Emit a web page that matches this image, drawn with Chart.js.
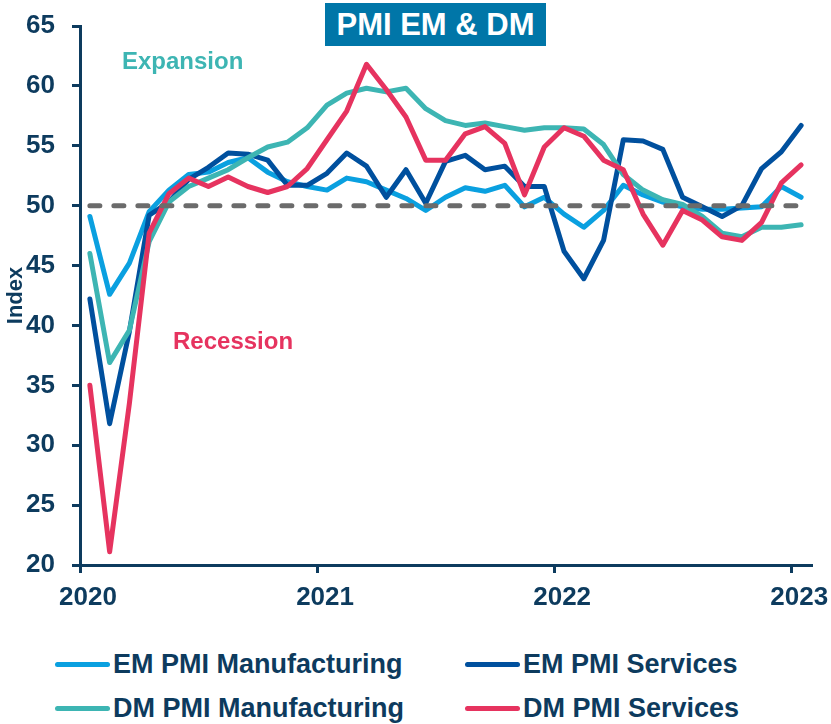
<!DOCTYPE html>
<html>
<head>
<meta charset="utf-8">
<script src="https://cdn.jsdelivr.net/npm/chart.js@4"></script>
<style>
  body { margin: 0; width: 831px; height: 724px; background: #fff; position: relative; overflow: hidden; }
  #wrap { position: absolute; left: 0; top: 0; width: 831px; height: 630px; }
  #titulo { position: absolute; left: 325px; top: 3px; width: 221px; height: 43px; background: #0076a8; color: #fff;
    font: bold 31px "Liberation Sans", Arial, sans-serif; text-align: center; line-height: 44px; }
  .nota { position: absolute; font: bold 24px "Liberation Sans", Arial, sans-serif; white-space: nowrap; }
  #leyenda .item { position: absolute; height: 40px; display: flex; align-items: center; white-space: nowrap;
    font: bold 27px "Liberation Sans", Arial, sans-serif; color: #0d3b5e; }
  #leyenda .linea { width: 55px; height: 5px; border-radius: 3px; margin-right: 3px; }
</style>
</head>
<body>
<div id="wrap"><canvas id="canva"></canvas></div>
<div id="titulo">PMI EM &amp; DM</div>
<div class="nota" id="expansion" style="left:122px; top:47px; color:#3db5b3;">Expansion</div>
<div class="nota" id="recesion" style="left:173px; top:327px; color:#e6335f;">Recession</div>
<div id="leyenda"></div>
<script>
// Datos (mensual, ene 2020 - ene 2023)
const meses = ["Jan 2020","Feb 2020","Mar 2020","Apr 2020","May 2020","Jun 2020","Jul 2020","Aug 2020","Sep 2020","Oct 2020","Nov 2020","Dec 2020",
  "Jan 2021","Feb 2021","Mar 2021","Apr 2021","May 2021","Jun 2021","Jul 2021","Aug 2021","Sep 2021","Oct 2021","Nov 2021","Dec 2021",
  "Jan 2022","Feb 2022","Mar 2022","Apr 2022","May 2022","Jun 2022","Jul 2022","Aug 2022","Sep 2022","Oct 2022","Nov 2022","Dec 2022",
  "Jan 2023"];

const emManufactura = [49.1,42.6,45.2,49.5,51.3,52.6,52.8,53.6,54.0,52.8,52.0,51.6,51.3,52.3,52.0,51.3,50.6,49.6,50.7,51.5,
  51.2,51.7,49.9,50.7,49.3,48.2,49.6,51.7,50.9,50.3,49.9,49.7,49.7,49.8,49.9,51.6,50.7];
const emServicios = [42.2,31.8,39.5,49.2,50.3,52.2,53.2,54.4,54.3,53.8,51.7,51.7,52.7,54.4,53.3,50.7,53.0,50.2,53.7,54.2,
  53.0,53.3,51.6,51.6,46.2,43.9,47.1,55.5,55.4,54.7,50.7,49.9,49.1,50.0,53.1,54.5,56.7];
const dmManufactura = [46.0,36.9,39.6,47.0,50.3,51.6,52.3,53.0,54.0,54.9,55.3,56.5,58.4,59.4,59.8,59.5,59.8,58.1,57.1,56.7,
  56.9,56.6,56.3,56.5,56.5,56.4,55.1,52.6,51.3,50.5,50.1,49.1,47.7,47.4,48.2,48.2,48.4];
const dmServicios = [35.0,21.1,33.5,47.7,51.0,52.3,51.6,52.4,51.6,51.1,51.6,53.1,55.5,57.9,61.8,59.7,57.4,53.8,53.8,56.0,
  56.6,55.2,50.9,54.9,56.5,55.8,53.8,53.0,49.3,46.7,49.6,48.8,47.4,47.1,48.6,51.9,53.4];

const umbral = 50;
const anios = ["2020","2021","2022","2023"];
const yTicks = [20,25,30,35,40,45,50,55,60,65];

const azul = "#0d3b5e";
const fuenteEjes = "'Liberation Sans', Arial, sans-serif";

function puntos(serie) {
  return serie.map((v, i) => ({ x: i, y: v }));
}

// posicion de cada anio = borde izquierdo de enero
const posAnios = anios.map(a => meses.indexOf("Jan " + a) - 0.5);

function serie(label, datos, color, orden) {
  return {
    label: label, data: puntos(datos), borderColor: color, backgroundColor: color,
    borderWidth: 5, pointRadius: 0, tension: 0, borderJoinStyle: "round", borderCapStyle: "round", order: orden
  };
}

const datasets = [
  serie("EM PMI Manufacturing", emManufactura, "#0aa0e0", 4),
  serie("EM PMI Services", emServicios, "#00509e", 3),
  serie("DM PMI Manufacturing", dmManufactura, "#3db5b3", 2),
  serie("DM PMI Services", dmServicios, "#e6335f", 1),
  {
    label: "50", data: [{ x: 0, y: umbral }, { x: meses.length - 1, y: umbral }], borderColor: "#6b6b6b",
    borderWidth: 5, borderDash: [10, 14], borderCapStyle: "round", pointRadius: 0, order: 0, sinLeyenda: true
  }
];

const ctx = document.getElementById("canva").getContext("2d");
const grafico = new Chart(ctx, {
  type: "line",
  data: { datasets: datasets },
  options: {
    responsive: true,
    maintainAspectRatio: false,
    animation: false,
    layout: { padding: { top: 26, right: 20, bottom: 15, left: 0 } },
    plugins: { legend: { display: false }, tooltip: { enabled: false } },
    scales: {
      x: {
        type: "linear",
        min: -0.5,
        max: meses.length - 0.5,
        afterBuildTicks: (scale) => { scale.ticks = posAnios.map(v => ({ value: v })); },
        afterFit: (scale) => { scale.height = 50; },
        border: { color: azul, width: 3 },
        grid: { drawOnChartArea: false, drawTicks: true, tickLength: 8, tickColor: azul, lineWidth: 3 },
        ticks: {
          autoSkip: false, maxRotation: 0, padding: 9, labelOffset: 8, color: azul,
          font: { family: fuenteEjes, size: 26, weight: "bold" },
          callback: (v) => anios[posAnios.indexOf(v)]
        }
      },
      y: {
        min: 20,
        max: 65,
        afterBuildTicks: (scale) => { scale.ticks = yTicks.map(v => ({ value: v })); },
        afterFit: (scale) => {
          scale.width = 80;
          // sin relleno extra arriba/abajo, el area la fija layout.padding
          scale.paddingTop = 0;
          scale.paddingBottom = 0;
        },
        border: { color: azul, width: 3 },
        grid: { drawOnChartArea: false, drawTicks: true, tickLength: 8, tickColor: azul, lineWidth: 3 },
        title: { display: true, text: "Index", color: azul, padding: { top: 3, bottom: 0 },
          font: { family: fuenteEjes, size: 22, weight: "bold" } },
        ticks: { padding: 17, color: azul, font: { family: fuenteEjes, size: 26, weight: "bold" } }
      }
    }
  }
});

// Leyenda en 2 columnas
const leyenda = document.getElementById("leyenda");
const colX = [55, 465];
const filaY = [664, 708];
grafico.data.datasets.filter(d => !d.sinLeyenda).forEach((d, i) => {
  const item = document.createElement("div");
  item.className = "item";
  item.style.left = colX[i % 2] + "px";
  item.style.top = (filaY[Math.floor(i / 2)] - 20) + "px";
  item.innerHTML = '<span class="linea" style="background:' + d.borderColor + '"></span>' + d.label;
  leyenda.appendChild(item);
});
</script>
</body>
</html>
